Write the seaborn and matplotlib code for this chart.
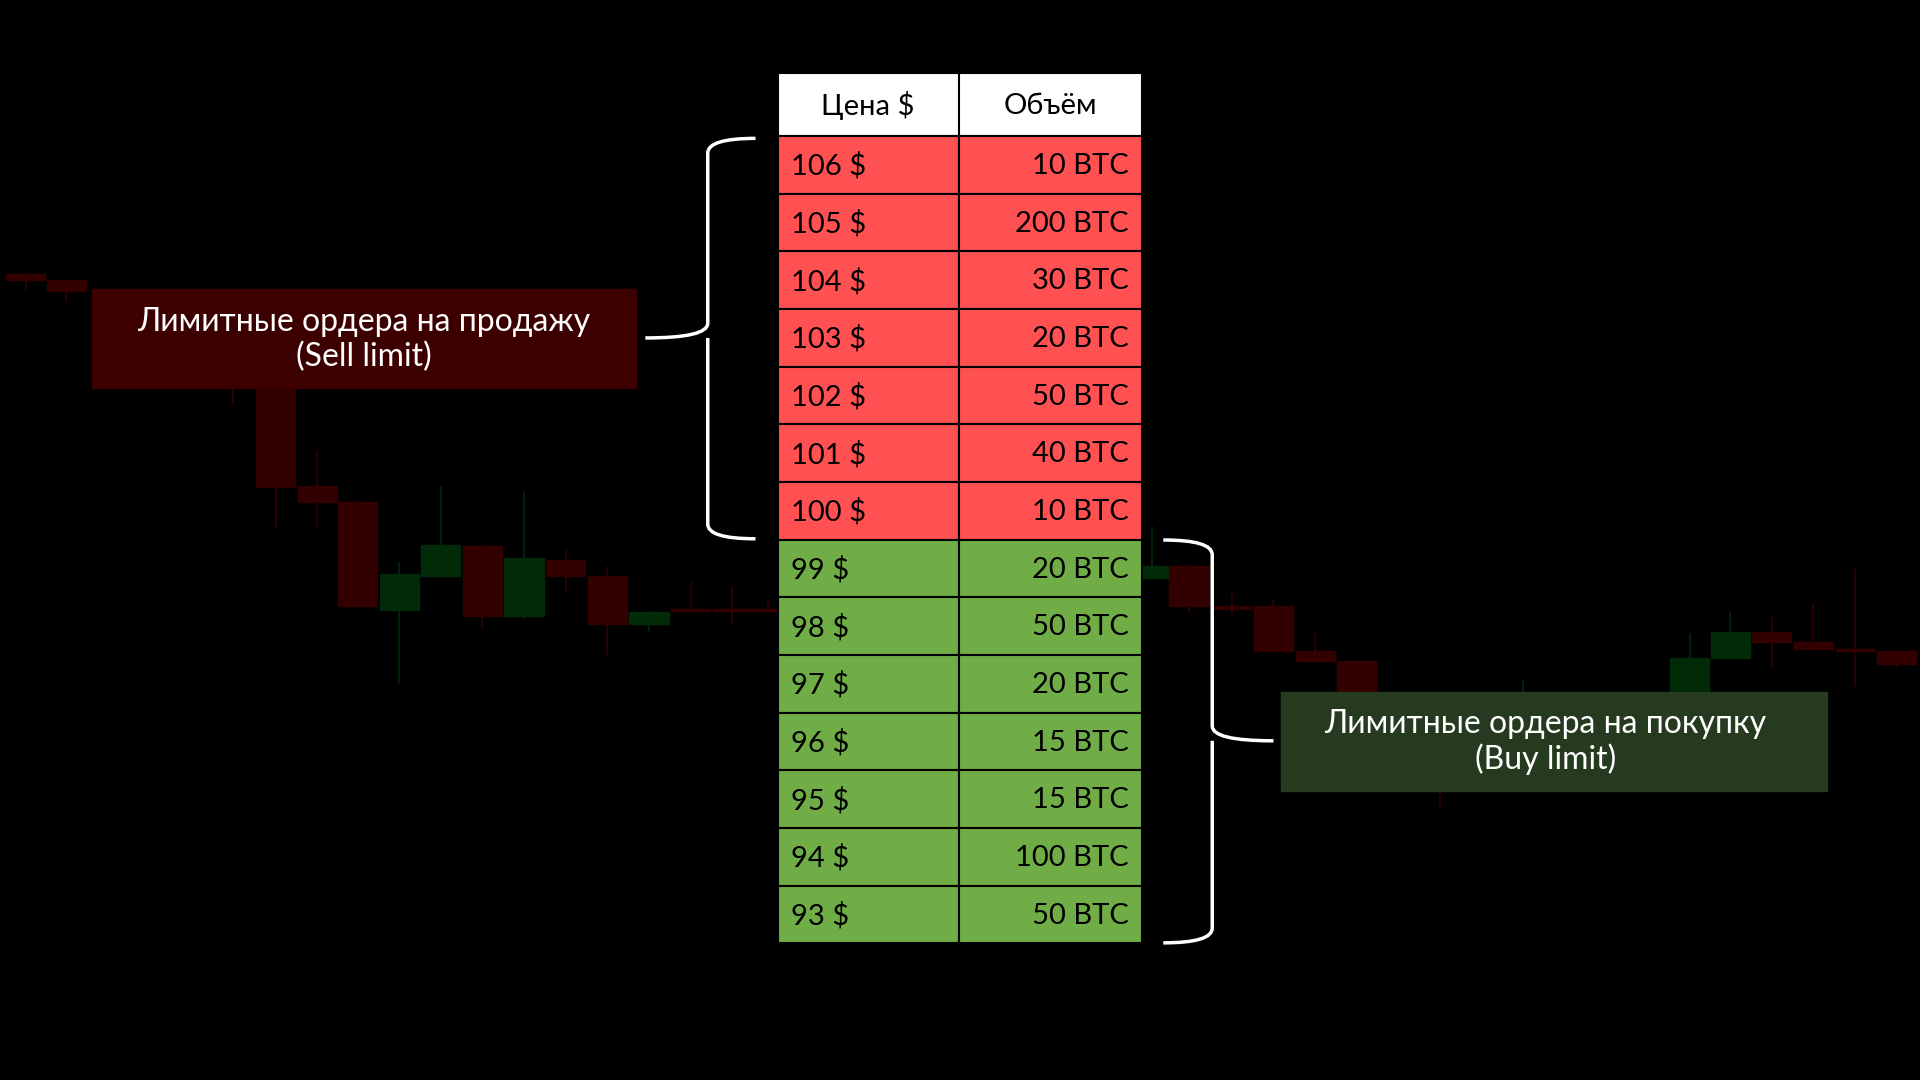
import matplotlib
matplotlib.use("Agg")
import matplotlib.pyplot as plt
import seaborn as sns
from matplotlib.path import Path
from matplotlib.patches import PathPatch, Rectangle

sns.set_theme(style="white")
plt.rcParams['font.family'] = ['Lato', 'DejaVu Sans']

# order book
prices = ["106 $", "105 $", "104 $", "103 $", "102 $", "101 $", "100 $",
          "99 $", "98 $", "97 $", "96 $", "95 $", "94 $", "93 $"]
volumes = ["10 BTC", "200 BTC", "30 BTC", "20 BTC", "50 BTC", "40 BTC", "10 BTC",
           "20 BTC", "50 BTC", "20 BTC", "15 BTC", "15 BTC", "100 BTC", "50 BTC"]
sides = ["sell"] * 7 + ["buy"] * 7
headers = ["Цена $", "Объём"]

# faint background candles (read in picture units): x, open, close, high, low
candle_x = [21, 54, 156, 190, 225, 259, 292, 326, 360, 394, 428, 462, 496, 530, 564, 598, 627,
            941, 971, 1006, 1040, 1074, 1108, 1176, 1210, 1244, 1346, 1380, 1413, 1447, 1481, 1515, 1549]
candle_open = [224, 229, 265, 310, 310, 397, 410, 498, 470, 446, 503, 457, 470, 510, 497, 497, 497,
               472, 462, 495, 495, 532, 540, 600, 640, 600, 610, 578, 537, 516, 524, 530, 532]
candle_close = [229, 238, 310, 310, 398, 410, 495, 469, 445, 503, 456, 470, 510, 500, 498, 498, 498,
                462, 495, 496, 532, 540, 575, 640, 600, 570, 578, 537, 516, 524, 530, 531, 542]
candle_high = [224, 229, 255, 290, 310, 368, 410, 460, 398, 446, 402, 449, 463, 500, 475, 480, 490,
               430, 462, 485, 490, 515, 540, 590, 620, 555, 570, 518, 500, 505, 493, 465, 532]
candle_low = [237, 245, 310, 330, 430, 432, 495, 558, 470, 512, 505, 483, 535, 515, 500, 510, 500,
              472, 500, 505, 532, 540, 580, 660, 645, 585, 600, 578, 537, 545, 530, 560, 545]

W, H = 1568, 882
fig = plt.figure(figsize=(19.2, 10.8), dpi=100, facecolor="black")
ax = fig.add_axes([0, 0, 1, 1])
ax.set_facecolor("black")
ax.set_xlim(0, W)
ax.set_ylim(H, 0)
ax.axis("off")

up_col, dn_col = "#002a08", "#330000"
for x, o, c, hi, lo in zip(candle_x, candle_open, candle_close, candle_high, candle_low):
    col = up_col if c < o else dn_col
    ax.plot([x, x], [hi, lo], color=col, lw=1.2, zorder=1)
    top, h = min(o, c), max(abs(c - o), 2)
    ax.add_patch(Rectangle((x - 16, top), 32, h, color=col, zorder=1))

# table
x0, x1, x2 = 635, 783, 933
y_head, row_h = 60, 47.1
y0 = 111
ax.add_patch(Rectangle((x0, y_head), x2 - x0, y0 - y_head, facecolor="white", edgecolor="black", lw=1.5, zorder=3))
ax.plot([x1, x1], [y_head, y0], color="black", lw=1.5, zorder=4)
ax.text((x0 + x1) / 2, (y_head + y0) / 2 + 1, headers[0], ha="center", va="center", fontsize=21, color="black", zorder=5)
ax.text((x1 + x2) / 2, (y_head + y0) / 2 + 1, headers[1], ha="center", va="center", fontsize=21, color="black", zorder=5)
for i, (p, v, s) in enumerate(zip(prices, volumes, sides)):
    yt = y0 + i * row_h
    fc = "#ff5152" if s == "sell" else "#70ad47"
    for xa, xb in [(x0, x1), (x1, x2)]:
        ax.add_patch(Rectangle((xa, yt), xb - xa, row_h, facecolor=fc, edgecolor="black", lw=1.5, zorder=3))
    ax.text(x0 + 11, yt + row_h / 2 + 1, p, ha="left", va="center", fontsize=21, color="black", zorder=5)
    ax.text(x2 - 11, yt + row_h / 2 + 1, v, ha="right", va="center", fontsize=21, color="black", zorder=5)

# label boxes
ax.add_patch(Rectangle((75, 236), 444, 81, color="#3d0000", zorder=2))
ax.text(297, 277, "Лимитные ордера на продажу\n(Sell limit)", ha="center", va="center",
        fontsize=23, color="white", linespacing=1.2, zorder=5)
ax.add_patch(Rectangle((1046, 565), 446, 81, color="#253a1e", zorder=2))
ax.text(1262, 606, "Лимитные ордера на покупку\n(Buy limit)", ha="center", va="center",
        fontsize=23, color="white", linespacing=1.2, zorder=5)


def brace(xe, xm, xt, ya, yb, ym):
    d = 1 if xt > xe else -1
    r = 12
    verts = [(xe, ya), (xm, ya), (xm, ya + r), (xm, ya + r),
             (xm, ym - r), (xm, ym), (xt, ym),
             (xm, ym), (xm, ym + r),
             (xm, yb - r), (xm, yb - r), (xm, yb), (xe, yb)]
    codes = [Path.MOVETO, Path.CURVE3, Path.CURVE3, Path.LINETO,
             Path.LINETO, Path.CURVE3, Path.CURVE3,
             Path.MOVETO, Path.LINETO,
             Path.LINETO, Path.LINETO, Path.CURVE3, Path.CURVE3]
    ax.add_patch(PathPatch(Path(verts, codes), fill=False, edgecolor="white", lw=2.5, zorder=5))


brace(617, 578, 527, 113, 440, 276)
brace(950, 990, 1040, 441, 770, 605)

fig.savefig("out.png", dpi=100, facecolor="black")
